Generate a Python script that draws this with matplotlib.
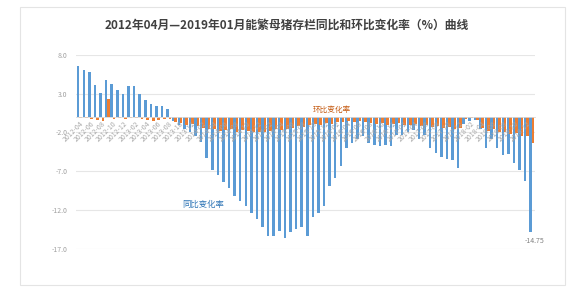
import numpy as np
import pandas as pd
import matplotlib.pyplot as plt
from matplotlib.patches import Rectangle

plt.rcParams['font.family'] = ['Noto Sans CJK SC', 'DejaVu Sans']

# 月份 2012-04 .. 2019-01
months = pd.period_range('2012-04', '2019-01', freq='M').strftime('%Y-%m').tolist()

# 同比变化率 (%)
tongbi = [6.5, 6.0, 5.8, 4.1, 3.1, 4.7, 4.2, 3.4, 3.0, 4.0, 4.0, 3.0, 2.2, 1.7, 1.4, 1.4, 1.0,
          -0.5, -1.0, -1.5, -1.9, -2.5, -3.2, -5.3, -6.8, -7.4, -8.3, -9.1, -10.2, -10.8, -11.4,
          -12.3, -13.1, -14.2, -15.3, -15.3, -14.6, -15.5, -14.8, -14.4, -14.2, -15.3, -12.9,
          -12.3, -11.4, -8.9, -7.8, -6.3, -4.0, -3.4, -2.9, -2.5, -3.3, -3.6, -3.8, -3.6, -3.8,
          -2.3, -2.3, -1.9, -1.7, -2.9, -2.3, -4.0, -4.6, -5.1, -5.4, -5.6, -6.5, -0.9, -0.5,
          -0.4, -1.6, -4.0, -2.9, -4.0, -4.9, -4.8, -5.9, -6.8, -8.2, -14.75]

# 环比变化率 (%)
huanbi = [-0.2, -0.2, -0.3, -0.4, -0.5, 2.3, -0.3, -0.2, -0.3, -0.2, -0.1, -0.3, -0.4, -0.5,
          -0.4, -0.3, -0.3,
          -0.6, -0.8, -1.0, -0.9, -1.2, -1.4, -1.6, -1.5, -1.8, -1.7, -1.6, -1.9, -1.7, -1.8,
          -2.0, -1.9, -2.0,
          -1.8, -1.6, -1.7, -1.5, -1.4, -1.2, -1.3, -1.0, -0.9, -1.0, -0.8, -0.9, -0.7, -0.6,
          -0.5, -0.6, -0.5, -0.7, -0.8, -0.9, -0.8, -1.0, -0.9, -0.8, -1.0, -1.1, -0.9, -1.2,
          -1.0, -1.3, -1.2, -1.4, -1.3, -1.5, -1.4,
          -0.3, -0.2, -0.4, -1.4, -1.8, -1.5, -2.0, -1.9, -2.2, -2.1, -2.4, -2.5, -3.4]

yticks = [8.0, 3.0, -2.0, -7.0, -12.0, -17.0]
title = '2012年04月—2019年01月能繁母猪存栏同比和环比变化率（%）曲线'

fig = plt.figure(figsize=(5.74, 2.95), dpi=100)
fig.patches.append(Rectangle((20 / 574, 10 / 295), 545 / 574, 278 / 295, transform=fig.transFigure,
                             fill=False, edgecolor='#e4e4e4', lw=0.8))
ax = fig.add_axes([0.1324, 0.155, 0.80, 0.66])

# 先把横轴放到 0 处（会重置刻度，所以放在前面）
for s in ['top', 'right', 'left']:
    ax.spines[s].set_visible(False)
ax.spines['bottom'].set_position(('data', 0))
ax.spines['bottom'].set_color('#d9d9d9')
ax.spines['bottom'].set_linewidth(0.6)

x = np.arange(len(months))
for v in yticks:
    ax.axhline(v, color='#e6e6e6', lw=0.8, zorder=0)
ax.bar(x - 0.2, tongbi, width=0.45, color='#5B9BD5', zorder=1)
ax.bar(x + 0.22, huanbi, width=0.48, color='#ED7D31', zorder=1)

ax.set_ylim(-17, 8)
ax.set_xlim(-0.6, len(months) - 0.4)
ax.set_yticks(yticks)
ax.set_yticklabels(['%.1f' % v for v in yticks], fontsize=5, color='#a0a0a0')
ax.set_xticks(x[::2])
ax.set_xticklabels(months[::2], rotation=45, ha='right', va='top', rotation_mode='anchor',
                   fontsize=5, color='#a8a8a8')
ax.tick_params(axis='y', length=0, pad=6)
ax.tick_params(axis='x', length=0, pad=2)

# 标注
ax.text(18.5, -11.2, '同比变化率', color='#2E75B6', fontsize=6, va='center')
ax.text(41.8, 0.9, '环比变化率', color='#C55A11', fontsize=5.5, va='center')
ax.text(81.4, -15.9, '-14.75', color='#808080', fontsize=5, ha='center', va='center')

fig.text(0.5, 0.915, title, ha='center', va='center', fontsize=8.5, fontweight='bold', color='#404040')

fig.savefig('out.png', dpi=100)
